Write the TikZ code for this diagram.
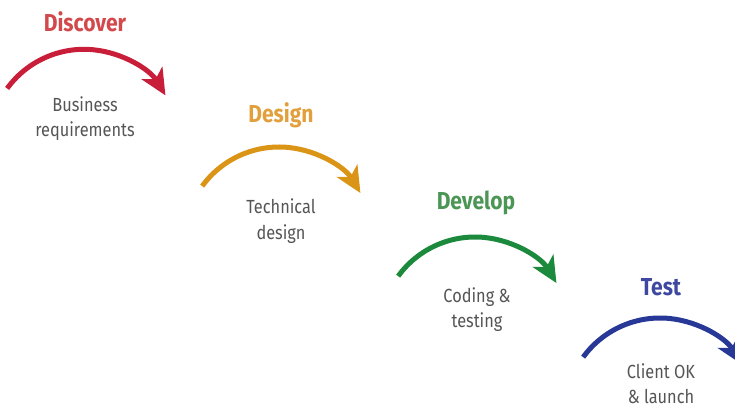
\documentclass[tikz,border=0pt]{standalone}
\usepackage{fontspec}
\setmainfont[FakeStretch=0.86]{Fira Sans}
\usetikzlibrary{arrows.meta}
\definecolor{redA}{RGB}{200,30,58}
\definecolor{redT}{RGB}{210,72,75}
\definecolor{orgA}{RGB}{218,148,22}
\definecolor{orgT}{RGB}{226,160,60}
\definecolor{grnA}{RGB}{28,138,60}
\definecolor{grnT}{RGB}{75,150,85}
\definecolor{bluA}{RGB}{40,56,150}
\definecolor{bluT}{RGB}{62,72,160}
\definecolor{txtgray}{RGB}{85,85,85}
\tikzset{
  phasearc/.style={line width=5pt, -{Stealth[length=26pt,width=24pt,inset=7pt]}},
  phasetitle/.style={font=\fontsize{24.5}{28}\selectfont\bfseries, anchor=base, inner sep=0pt},
  phasetext/.style={font=\fontsize{19}{26}\selectfont, text=txtgray, anchor=base, inner sep=0pt}
}
\begin{document}
\begin{tikzpicture}[x=1pt,y=1pt]
\useasboundingbox (0,0) rectangle (735,407);
% centres of the arcs
\coordinate (c1) at (84,262.7);
\coordinate (c2) at (279,165);
\coordinate (c3) at (475,75);
\coordinate (c4) at (660,-6);
% arcs
\draw[phasearc, redA] ([shift={(144:95)}]c1) arc[start angle=144, end angle=31, radius=95];
\draw[phasearc, orgA] ([shift={(144:95)}]c2) arc[start angle=144, end angle=31, radius=95];
\draw[phasearc, grnA] ([shift={(144:95)}]c3) arc[start angle=144, end angle=31, radius=95];
\draw[phasearc, bluA] ([shift={(144:95)}]c4) arc[start angle=144, end angle=31, radius=95];
% titles
\node[phasetitle, text=redT] (t1) at (85,375) {Discover};
\node[phasetitle, text=orgT] (t2) at (281,284) {Design};
\node[phasetitle, text=grnT] (t3) at (476,197) {Develop};
\node[phasetitle, text=bluT] (t4) at (661,112) {Test};
% descriptions
\node[phasetext] (d1a) at (85,295) {Business};
\node[phasetext] (d1b) at (85,270) {requirements};
\node[phasetext] (d2a) at (281,193) {Technical};
\node[phasetext] (d2b) at (281,167) {design};
\node[phasetext] (d3a) at (477,105) {Coding \&};
\node[phasetext] (d3b) at (477,80) {testing};
\node[phasetext] (d4a) at (661,29) {Client OK};
\node[phasetext] (d4b) at (661,4) {\& launch};
\end{tikzpicture}
\end{document}
